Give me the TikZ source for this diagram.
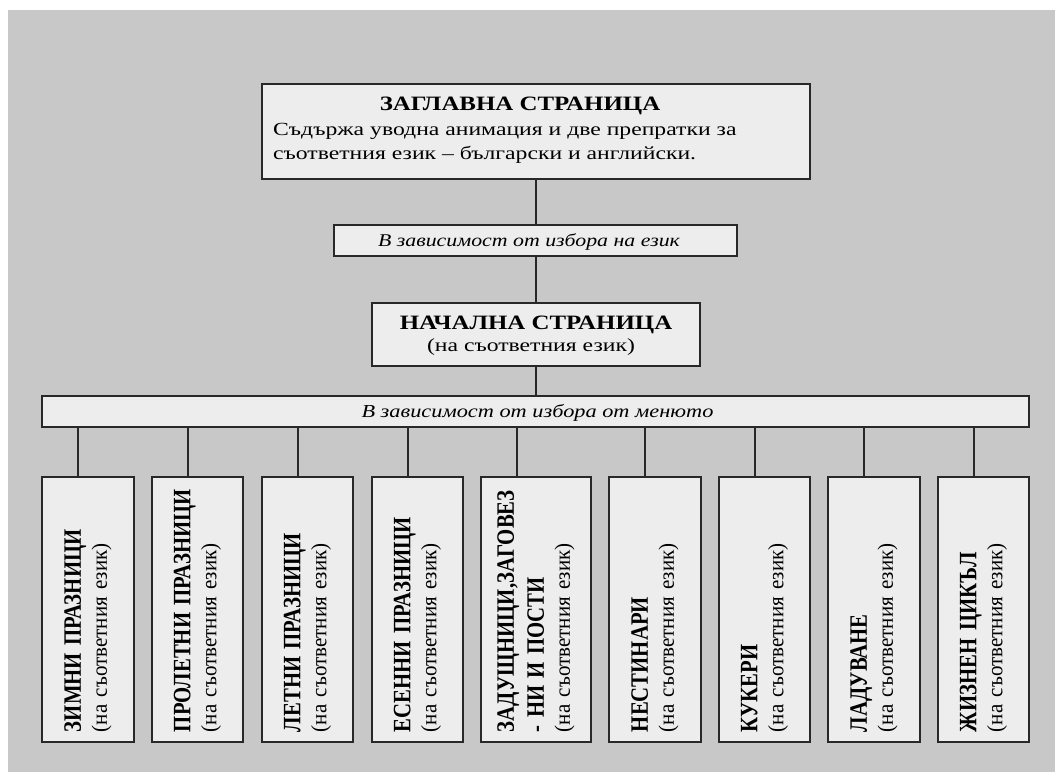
\documentclass[tikz,border=0pt]{standalone}
\usepackage{fontspec}
\setmainfont{Liberation Serif}
% wide faces for horizontal text, narrow faces for text set on its side
\newfontfamily\hserif[FakeStretch=1.22]{Liberation Serif}
\newfontfamily\hbody[FakeStretch=1.28]{Liberation Serif}
\newfontfamily\vserif[FakeStretch=0.83]{Liberation Serif}
\newfontfamily\vnote[FakeStretch=0.955]{Liberation Serif}
\newcommand\vtitle{\vserif\bfseries\fontsize{25}{26}\selectfont}

\definecolor{page}{RGB}{200,200,200}
\definecolor{boxfill}{RGB}{237,237,237}
\definecolor{edge}{RGB}{40,40,40}

\tikzset{
  card/.style={draw=edge, line width=1.4pt, fill=boxfill, inner sep=0pt},
  link/.style={draw=edge, line width=1.4pt},
  headtext/.style={inner sep=0pt, font=\hserif\bfseries\fontsize{20.4}{24}\selectfont},
  plaintext/.style={inner sep=0pt, font=\hbody\fontsize{18.5}{24}\selectfont},
  choicetext/.style={inner sep=0pt, font=\hserif\itshape\fontsize{#1}{22}\selectfont},
  sidetext/.style={rotate=90, text width=245pt, align=left, inner sep=0pt,
    font=\vnote\fontsize{22}{26}\selectfont},
}

\begin{document}
\begin{tikzpicture}[x=1pt,y=-1pt]
\useasboundingbox (0,0) rectangle (1055,772);
\fill[page] (8,10) rectangle (1055,772);

% title page
\node[card, minimum width=548pt, minimum height=95pt] (title) at (536,131.5) {};
\node[headtext, anchor=base] (titleH) at (520,110) {ЗАГЛАВНА СТРАНИЦА};
\node[plaintext, anchor=base west] (titleL1) at (273,135) {Съдържа уводна анимация и две препратки за};
\node[plaintext, anchor=base west] (titleL2) at (273,159) {съответния език – български и английски.};

% language choice
\node[card, minimum width=403pt, minimum height=31pt] (lang) at (535.5,240.5) {};
\node[choicetext=17.9, anchor=base] (langT) at (529,246.5) {В зависимост от избора на език};

% start page
\node[card, minimum width=328pt, minimum height=63pt] (start) at (536,334.5) {};
\node[headtext, anchor=base] (startH) at (536,329) {НАЧАЛНА СТРАНИЦА};
\node[plaintext, anchor=base] (startS) at (531,351) {(на съответния език)};

% menu choice
\node[card, minimum width=987pt, minimum height=31pt] (menu) at (535.5,411.5) {};
\node[choicetext=18.3, anchor=base] (menuT) at (537.5,417.5) {В зависимост от избора от менюто};

% section boxes
\foreach \n/\cx/\w in {1/88/92, 2/197.5/91, 3/307.5/91, 4/417.5/91, 5/536/110,
                       6/655/92, 7/764.5/91, 8/874/92, 9/983.5/91}
  \node[card, minimum width=\w pt, minimum height=265pt] (c\n) at (\cx,609.5) {};

\node[sidetext] (s1) at (c1) {{\vtitle ЗИМНИ ПРАЗНИЦИ}\\(на съответния език)};
\node[sidetext] (s2) at (c2) {{\vtitle ПРОЛЕТНИ ПРАЗНИЦИ}\\(на съответния език)};
\node[sidetext] (s3) at (c3) {{\vtitle ЛЕТНИ ПРАЗНИЦИ}\\(на съответния език)};
\node[sidetext] (s4) at (c4) {{\vtitle ЕСЕННИ ПРАЗНИЦИ}\\(на съответния език)};
\node[sidetext] (s5) at (c5) {{\vtitle ЗАДУЩНИЦИ,ЗАГОВЕЗ\\[4pt]- НИ И ПОСТИ}\\(на съответния език)};
\node[sidetext] (s6) at (c6) {{\vtitle НЕСТИНАРИ}\\(на съответния език)};
\node[sidetext] (s7) at (c7) {{\vtitle КУКЕРИ}\\(на съответния език)};
\node[sidetext] (s8) at (c8) {{\vtitle ЛАДУВАНЕ}\\(на съответния език)};
\node[sidetext] (s9) at (c9) {{\vtitle ЖИЗНЕН ЦИКЪЛ}\\(на съответния език)};

% connectors
\draw[link] (title.south) -- (title.south |- lang.north);
\draw[link] (title.south |- lang.south) -- (title.south |- start.north);
\draw[link] (start.south) -- (start.south |- menu.north);
\foreach \n in {1,...,9}
  \draw[link] ([xshift=36.5pt]c\n.north west) -- ([xshift=36.5pt]c\n.north west |- menu.south);
\end{tikzpicture}
\end{document}
